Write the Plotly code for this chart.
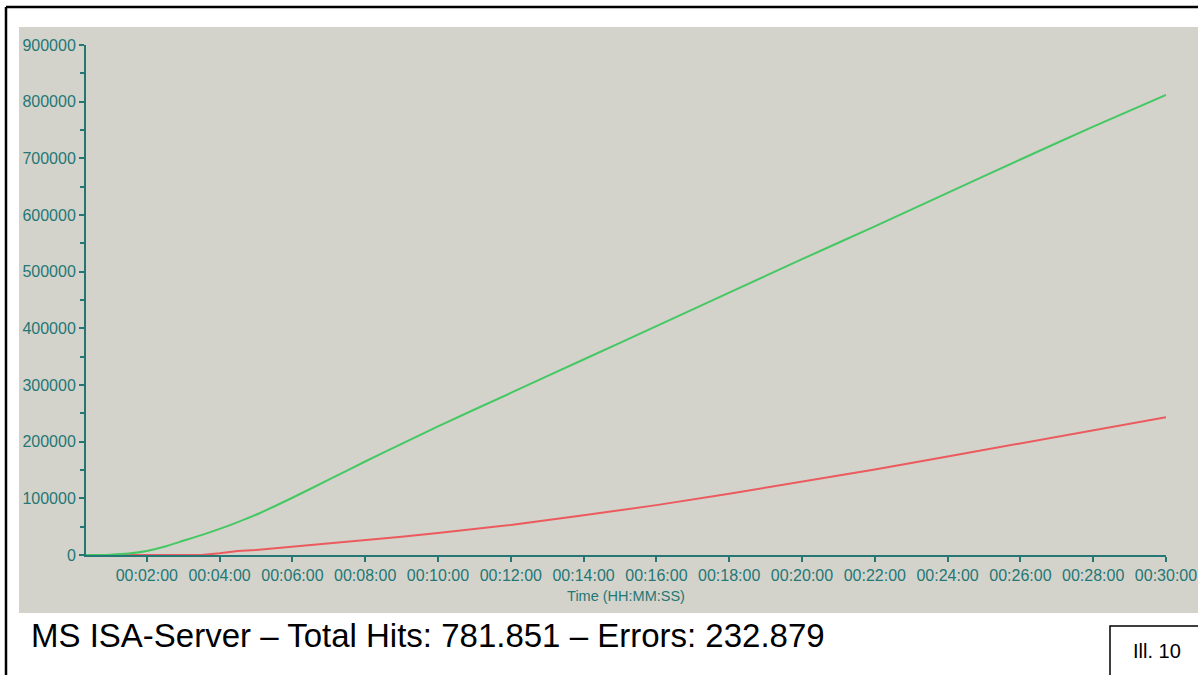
"""MS ISA-Server load test: cumulative hits and errors over 30 minutes."""

import plotly.graph_objects as go

# elapsed time in minutes
TIME_MIN = [0.33, 0.7, 1.0, 1.5, 2.0, 2.5, 3.0, 3.5, 4.0, 4.5, 5.0, 6.0, 7.0, 8.0, 9.0,
            10.0, 12.0, 14.0, 16.0, 18.0, 20.0, 22.0, 24.0, 26.0, 28.0, 30.0]
TOTAL_HITS = [0, 0, 500, 2500, 7000, 15000, 25000, 35000, 46000, 58000, 71000, 101000,
              133000, 165000, 196000, 227000, 286000, 345000, 404000, 463000, 522000,
              580000, 639000, 698000, 756000, 812000]
ERRORS = [0, 0, 0, 0, 0, 0, 0, 0, 3000, 7000, 9000, 14500, 20000, 26000, 32000,
          39000, 53000, 70000, 88000, 108000, 129000, 151000, 174000, 197000, 220000, 243000]

TICK_MIN = list(range(2, 31, 2))
TICK_TEXT = [f"00:{m:02d}:00" for m in TICK_MIN]
Y_TICKS = list(range(0, 900001, 100000))
Y_TEXT = [str(v) for v in Y_TICKS]

CAPTION = "MS ISA-Server \u2013 Total Hits: 781.851 \u2013 Errors: 232.879"
LABEL = "Ill. 10"

W, H = 1198, 675
L, R, T, B = 86, 1166, 45, 555  # plot area in pixels
AXIS = "#247775"
PANEL = "#d3d3cb"


def px_x(x):
    return (x - L) / (R - L)


def px_y(y):
    return (B - y) / (B - T)


fig = go.Figure()
fig.add_trace(go.Scatter(x=TIME_MIN, y=ERRORS, mode="lines",
                         line=dict(color="#ec5a5e", width=2), name="Errors"))
fig.add_trace(go.Scatter(x=TIME_MIN, y=TOTAL_HITS, mode="lines",
                         line=dict(color="#45c863", width=2, shape="spline", smoothing=0.6),
                         name="Total Hits"))

tick_font = dict(family="Arial, Liberation Sans", size=16, color=AXIS)

fig.update_xaxes(
    range=[TIME_MIN[0], 30], tickvals=TICK_MIN, ticktext=TICK_TEXT,
    showgrid=False, zeroline=False, showline=True, linecolor=AXIS, linewidth=2,
    ticks="outside", ticklen=5, tickwidth=1.5, tickcolor=AXIS, tickfont=tick_font,
    ticklabeloverflow="allow", automargin=False,
    title=dict(text="Time (HH:MM:SS)",
               font=dict(family="Arial, Liberation Sans", size=14.5, color=AXIS), standoff=8),
    layer="below traces",
)
fig.update_yaxes(
    range=[0, 900000], tickvals=Y_TICKS, ticktext=Y_TEXT, showgrid=False, zeroline=False,
    showline=True, linecolor=AXIS, linewidth=2, ticks="outside", ticklen=5,
    tickwidth=1.5, tickcolor=AXIS, tickfont=tick_font, automargin=False,
    minor=dict(dtick=50000, ticks="outside", ticklen=4, tickwidth=1.5, tickcolor=AXIS),
    layer="below traces",
)

shapes = [
    # grey chart panel
    dict(type="rect", xref="paper", yref="paper", x0=px_x(19), x1=px_x(1198),
         y0=px_y(613), y1=px_y(27), fillcolor=PANEL, line=dict(width=0), layer="below"),
    # outer frame (left and top)
    dict(type="line", xref="paper", yref="paper", x0=px_x(6), x1=px_x(6),
         y0=px_y(675), y1=px_y(7), line=dict(color="black", width=2.5)),
    dict(type="line", xref="paper", yref="paper", x0=px_x(6), x1=px_x(1198),
         y0=px_y(7), y1=px_y(7), line=dict(color="black", width=2.5)),
    # label box
    dict(type="rect", xref="paper", yref="paper", x0=px_x(1110), x1=px_x(1200),
         y0=px_y(677), y1=px_y(626), line=dict(color="black", width=1.5)),
]

fig.update_layout(
    width=W, height=H, autosize=False,
    margin=dict(l=L, r=W - R, t=T, b=H - B),
    paper_bgcolor="white", plot_bgcolor=PANEL,
    showlegend=False,
    shapes=shapes,
    annotations=[
        dict(text=CAPTION, xref="paper", yref="paper", x=px_x(29), y=px_y(636),
             xanchor="left", yanchor="middle", showarrow=False,
             font=dict(family="Arial, Liberation Sans", size=33, color="black")),
        dict(text=LABEL, xref="paper", yref="paper", x=px_x(1157), y=px_y(651),
             xanchor="center", yanchor="middle", showarrow=False,
             font=dict(family="Arial, Liberation Sans", size=20, color="black")),
    ],
)

fig.write_html(
    "out.html",
    config={"displayModeBar": False, "responsive": False},
    post_script="document.body.style.margin='0';"
                "document.body.style.overflow='hidden';",
)
